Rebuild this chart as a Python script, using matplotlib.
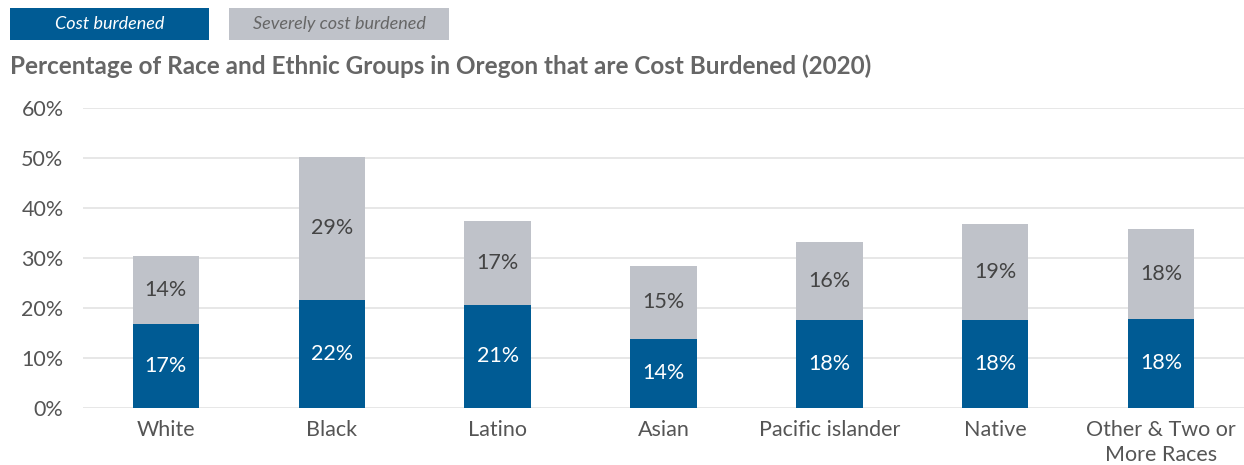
import matplotlib.pyplot as plt
import matplotlib.patches as mpatches
import numpy as np

plt.rcParams['font.family'] = ['Lato', 'DejaVu Sans']

categories = ['White', 'Black', 'Latino', 'Asian', 'Pacific islander', 'Native',
              'Other & Two or\nMore Races']
cost_burdened = [16.7, 21.6, 20.6, 13.8, 17.5, 17.6, 17.8]
severely_burdened = [13.6, 28.6, 16.8, 14.6, 15.6, 19.2, 17.9]
cost_labels = ['17%', '22%', '21%', '14%', '18%', '18%', '18%']
severe_labels = ['14%', '29%', '17%', '15%', '16%', '19%', '18%']
yticks = [0, 10, 20, 30, 40, 50, 60]

BLUE = '#005B94'
GRAY = '#BFC2C9'
TEXT = '#555555'

fig = plt.figure(figsize=(12.44, 4.65), dpi=100)
ax = fig.add_axes([0.0667, 0.1226, 0.9333, 0.6452])

x = np.arange(len(categories))
ax.bar(x, cost_burdened, width=0.4, color=BLUE, zorder=3)
ax.bar(x, severely_burdened, width=0.4, bottom=cost_burdened, color=GRAY, zorder=3)

for i in range(len(categories)):
    ax.text(x[i], cost_burdened[i] / 2, cost_labels[i], ha='center', va='center',
            color='white', fontsize=15.5, zorder=4)
    ax.text(x[i], cost_burdened[i] + severely_burdened[i] / 2, severe_labels[i],
            ha='center', va='center', color='#444444', fontsize=15.5, zorder=4)

ax.set_xlim(-0.5, 6.5)
ax.set_ylim(0, 60)
ax.set_yticks(yticks)
ax.set_yticklabels([f'{t}%' for t in yticks])
ax.set_xticks(x)
ax.set_xticklabels(categories, linespacing=1.3)
ax.yaxis.grid(True, color='#E3E3E3', linewidth=1.2, zorder=0)
ax.tick_params(axis='both', length=0, labelsize=15.5, labelcolor=TEXT)
ax.tick_params(axis='y', pad=14)
ax.tick_params(axis='x', pad=9)
for s in ax.spines.values():
    s.set_visible(False)

# legend boxes at the top
W, H = 1244, 465
legend_items = [('Cost burdened', BLUE, 'white', 10, 209),
                ('Severely cost burdened', GRAY, '#666666', 229, 449)]
for label, fc, tc, x0, x1 in legend_items:
    rect = mpatches.Rectangle((x0 / W, 1 - 40 / H), (x1 - x0) / W, 32 / H,
                              transform=fig.transFigure, facecolor=fc, edgecolor='none')
    fig.patches.append(rect)
    fig.text((x0 + x1) / 2 / W, 1 - 24 / H, label, ha='center', va='center',
             color=tc, fontsize=13, style='italic')

fig.text(10 / W, 1 - 66 / H,
         'Percentage of Race and Ethnic Groups in Oregon that are Cost Burdened (2020)',
         ha='left', va='center', fontsize=17.5, fontweight='bold', color='#666666')

fig.savefig('out.png', dpi=100)
